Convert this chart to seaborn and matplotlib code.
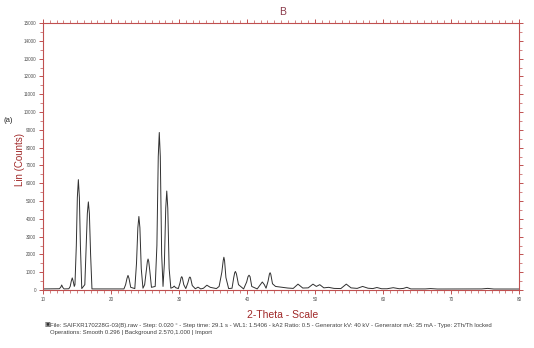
import matplotlib
matplotlib.use("Agg")
import matplotlib.pyplot as plt
import seaborn as sns
import pandas as pd
from matplotlib.ticker import MultipleLocator

# Digitised pattern (2-Theta, Lin counts)
two_theta = [
    10.0, 11.5, 12.4, 12.6, 12.75, 12.9, 13.1, 13.8, 14.0, 14.15, 14.3, 14.45, 14.6,
    14.7, 14.9, 15.05, 15.2, 15.35, 15.5, 15.7, 16.15, 16.35, 16.52, 16.67, 16.82, 17.0, 17.2,
    21.9, 22.15, 22.35, 22.5, 22.65, 22.9, 23.5, 23.75, 23.95, 24.1, 24.25, 24.45, 24.7,
    24.95, 25.2, 25.35, 25.45, 25.55, 25.7, 25.95, 26.5, 26.75, 26.95, 27.1, 27.25, 27.45,
    27.65, 27.85, 28.05, 28.2, 28.35, 28.55, 28.8, 29.1, 29.3, 29.5, 29.9, 30.15, 30.3, 30.4,
    30.5, 30.7, 31.0, 31.3, 31.5, 31.6, 31.7, 31.95, 32.4, 32.8, 33.2, 33.6, 34.1, 34.6, 35.5,
    35.9, 36.3, 36.5, 36.6, 36.7, 36.9, 37.3, 37.8, 38.05, 38.2, 38.3, 38.45, 38.75, 39.5,
    39.95, 40.15, 40.3, 40.45, 40.7, 41.5, 41.95, 42.25, 42.55, 42.8, 43.1, 43.3, 43.4, 43.5,
    43.75, 44.2, 45.0, 46.0, 46.8, 47.5, 48.2, 49.0, 49.7, 50.2, 50.7, 51.3, 52.0, 52.8, 53.8,
    54.6, 55.3, 56.2, 57.0, 57.8, 58.5, 59.1, 59.8, 60.6, 61.5, 62.4, 63.0, 63.5, 64.1, 65.0,
    66.2, 67.0, 68.0, 70.0, 72.0, 74.5, 75.4, 76.3, 78.0, 80.0,
]
counts = [
    60, 70, 70, 150, 280, 150, 60, 70, 200, 480, 680, 480, 200,
    300, 2500, 5200, 6200, 5200, 2500, 80, 300, 2500, 4300, 4950, 4300, 2000, 60,
    60, 300, 650, 820, 650, 150, 80, 1500, 3500, 4130, 3500, 1200, 100,
    300, 1100, 1600, 1740, 1600, 1100, 150, 200, 2500, 7500, 8850, 7500, 2000,
    200, 1500, 4600, 5560, 4600, 1200, 100, 150, 220, 130, 80, 400, 680, 750,
    680, 300, 80, 400, 680, 730, 680, 250, 70, 160, 60, 100, 270, 150, 80,
    200, 1000, 1650, 1840, 1650, 700, 80, 100, 700, 980, 1040, 900, 300, 60,
    450, 750, 830, 750, 200, 60, 300, 450, 300, 100, 500, 900, 970, 880,
    350, 200, 160, 110, 90, 330, 110, 120, 330, 200, 300, 120, 150, 90, 80,
    330, 120, 90, 200, 100, 80, 140, 70, 70, 130, 70, 90, 150, 60, 60,
    60, 80, 55, 55, 55, 60, 90, 55, 55, 55,
]

y_ticks = list(range(0, 15001, 1000))
x_ticks = [10, 20, 30, 40, 50, 60, 70, 80]

df = pd.DataFrame({"two_theta": two_theta, "counts": counts})

sns.set_theme(style="white")
plt.rcParams["font.family"] = ["Liberation Sans", "DejaVu Sans"]

fig = plt.figure(figsize=(5.34, 3.48), dpi=100)
ax = fig.add_axes([43 / 534, 58 / 348, 476 / 534, 267 / 348])

sns.lineplot(data=df, x="two_theta", y="counts", ax=ax, color="#303030",
             linewidth=0.7, estimator=None, sort=False)

frame = "#c05050"
for s in ax.spines.values():
    s.set_color(frame)
    s.set_linewidth(0.8)

ax.set_xlim(10, 80)
ax.set_ylim(0, 15000)
ax.set_xticks(x_ticks)
ax.set_yticks(y_ticks)
ax.xaxis.set_minor_locator(MultipleLocator(1))
ax.yaxis.set_minor_locator(MultipleLocator(500))
ax.tick_params(axis="both", which="both", direction="out", color=frame,
               top=True, right=True, left=True, bottom=True,
               labeltop=False, labelright=False)
ax.tick_params(axis="both", which="major", length=3, width=0.7, labelsize=3.3,
               labelcolor="#505050", pad=2)
ax.tick_params(axis="both", which="minor", length=2, width=0.5)

ax.set_xlabel("")
ax.set_ylabel("")
fig.text(283 / 534, 1 - 315 / 348, "2-Theta - Scale", ha="center", va="center",
         fontsize=7.5, color="#a02828")
fig.text(20 / 534, 1 - 160 / 348, "Lin (Counts)", ha="center", va="center",
         rotation=90, fontsize=7, color="#a02828")
fig.text(283 / 534, 1 - 12 / 348, "B", ha="center", va="center",
         fontsize=7.5, color="#8a3a4a")
fig.text(4 / 534, 1 - 121 / 348, "(a)", ha="left", va="center",
         fontsize=5.5, color="#202020")

fig.text(44 / 534, 1 - 325 / 348, "\u25A3", ha="left", va="center",
         fontsize=4.5, color="#303030", family=["DejaVu Sans"])
fig.text(50 / 534, 1 - 325 / 348,
         "File: SAIFXR170228G-03(B).raw - Step: 0.020 \u00b0 - Step time: 29.1 s - WL1: 1.5406 "
         "- kA2 Ratio: 0.5 - Generator kV: 40 kV - Generator mA: 35 mA - Type: 2Th/Th locked",
         ha="left", va="center", fontsize=4.3, color="#404040")
fig.text(50 / 534, 1 - 332.5 / 348,
         "Operations: Smooth 0.296 | Background 2.570,1.000 | Import",
         ha="left", va="center", fontsize=4.3, color="#404040")

fig.savefig("out.png", dpi=100)
